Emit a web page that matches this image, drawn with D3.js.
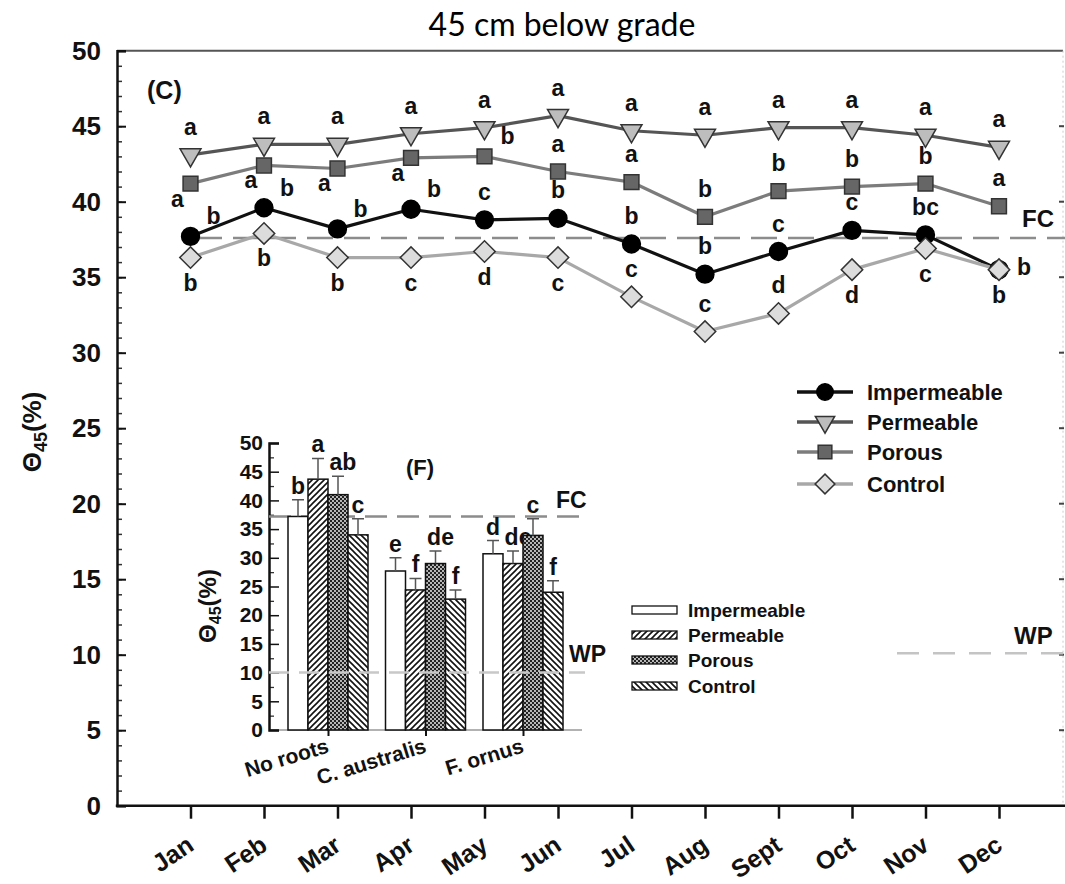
<!DOCTYPE html>
<html>
<head>
<meta charset="utf-8">
<script src="https://cdn.jsdelivr.net/npm/d3@7"></script>
<style>
  body { margin: 0; background: #fff; }
  text { font-family: "Liberation Sans", Arial, sans-serif; }
</style>
</head>
<body>
<div id="chart"></div>
<script>
// main panel (C): monthly values, %
const months = ["Jan", "Feb", "Mar", "Apr", "May", "Jun", "Jul", "Aug", "Sept", "Oct", "Nov", "Dec"];
const impermeable = [37.7, 39.6, 38.2, 39.5, 38.8, 38.9, 37.2, 35.2, 36.7, 38.1, 37.8, 35.5];
const permeable = [43.1, 43.8, 43.8, 44.5, 44.9, 45.7, 44.7, 44.4, 44.9, 44.9, 44.4, 43.6];
const porous = [41.2, 42.4, 42.2, 42.9, 43.0, 42.0, 41.3, 39.0, 40.7, 41.0, 41.2, 39.7];
const control = [36.3, 37.9, 36.3, 36.3, 36.7, 36.3, 33.7, 31.4, 32.6, 35.5, 36.9, 35.5];

// significance letters + where they sit round the marker
const impLetters = ["b", "b", "b", "b", "c", "b", "b", "b", "c", "c", "bc", "b"];
const impPos = ["NE", "NE", "NE", "NE", "N", "N", "N", "N", "N", "N", "N", "S"];
const permLetters = ["a", "a", "a", "a", "a", "a", "a", "a", "a", "a", "a", "a"];
const permPos = ["N", "N", "N", "N", "N", "N", "N", "N", "N", "N", "N", "N"];
const porLetters = ["a", "a", "a", "a", "b", "a", "a", "b", "b", "b", "b", "a"];
const porPos = ["SW", "SW", "SW", "SW", "NE", "N", "N", "N", "N", "N", "N", "N"];
const ctlLetters = ["b", "b", "b", "c", "d", "c", "c", "c", "d", "d", "c", "b"];
const ctlPos = ["S", "S", "S", "S", "S", "S", "N", "N", "N", "S", "S", "E"];

const yTicksMain = [0, 5, 10, 15, 20, 25, 30, 35, 40, 45, 50];
const fcMain = 37.6;
const wpMain = 10.1;

// inset panel (F)
const insetGroups = ["No roots", "C. australis", "F. ornus"];
const insetImpermeable = [37.2, 27.7, 30.7];
const insetPermeable = [43.7, 24.4, 29.0];
const insetPorous = [41.0, 29.0, 33.9];
const insetControl = [34.0, 22.8, 24.0];
const insetImpErr = [2.9, 2.3, 2.3];
const insetPermErr = [3.6, 2.0, 2.2];
const insetPorErr = [3.2, 2.2, 2.9];
const insetCtlErr = [2.8, 1.6, 2.0];
const insetImpLetters = ["b", "e", "d"];
const insetPermLetters = ["a", "f", "de"];
const insetPorLetters = ["ab", "de", "c"];
const insetCtlLetters = ["c", "f", "f"];
const yTicksInset = [0, 5, 10, 15, 20, 25, 30, 35, 40, 45, 50];
const fcInset = 37.2;
const wpInset = 10;

const seriesNames = ["Impermeable", "Permeable", "Porous", "Control"];

const width = 1065, height = 884;

const svg = d3.select("#chart").append("svg")
  .attr("width", width)
  .attr("height", height)
  .attr("viewBox", [0, 0, width, height]);

svg.append("rect").attr("width", width).attr("height", height).attr("fill", "#fff");

const defs = svg.append("defs");
const hatch = (id, d) => {
  const p = defs.append("pattern").attr("id", id)
    .attr("patternUnits", "userSpaceOnUse").attr("width", 6).attr("height", 6);
  p.append("rect").attr("width", 6).attr("height", 6).attr("fill", "#fff");
  p.append("path").attr("d", d).attr("stroke", "#111").attr("stroke-width", 1.6);
};
hatch("hatchUp", "M0,6L6,0M-1,1L1,-1M5,7L7,5");
hatch("hatchDown", "M0,0L6,6M-1,5L1,7M5,-1L7,1");
const dots = defs.append("pattern").attr("id", "dots")
  .attr("patternUnits", "userSpaceOnUse").attr("width", 4).attr("height", 4);
dots.append("rect").attr("width", 4).attr("height", 4).attr("fill", "#222");
dots.append("circle").attr("cx", 1).attr("cy", 1).attr("r", 0.9).attr("fill", "#fff");
dots.append("circle").attr("cx", 3).attr("cy", 3).attr("r", 0.9).attr("fill", "#fff");

// title
svg.append("text")
  .attr("x", 562).attr("y", 36)
  .attr("text-anchor", "middle")
  .style("font-family", "Lato, 'Open Sans', sans-serif")
  .attr("font-size", 32)
  .text("45 cm below grade");

// ---------- main panel ----------
const x = d3.scaleLinear().domain([0, 13]).range([117, 1072.5]);
const y = d3.scaleLinear().domain([0, 50]).range([805.7, 50.7]);

// frame: top and right
svg.append("line").attr("x1", 117).attr("x2", 1063).attr("y1", y(50)).attr("y2", y(50))
  .attr("stroke", "#555").attr("stroke-width", 2);
svg.append("line").attr("x1", 1063).attr("x2", 1063).attr("y1", y(50)).attr("y2", y(0))
  .attr("stroke", "#ccc").attr("stroke-width", 1).attr("stroke-dasharray", "2,3");
svg.append("g").selectAll("line").data(yTicksMain.slice(1, -1)).join("line")
  .attr("x1", 1059).attr("x2", 1064).attr("y1", d => y(d)).attr("y2", d => y(d))
  .attr("stroke", "#444").attr("stroke-width", 2);

// y axis (ticks point inward)
svg.append("g")
  .attr("transform", "translate(117,0)")
  .call(d3.axisLeft(y).tickValues(d3.range(0, 51, 1)).tickSize(-5).tickFormat(""))
  .call(g => g.selectAll(".tick line").attr("stroke", "#333").attr("stroke-width", 1.5))
  .call(g => g.select(".domain").remove());
svg.append("g")
  .attr("transform", "translate(117,0)")
  .call(d3.axisLeft(y).tickValues(yTicksMain).tickSize(-9).tickPadding(16))
  .call(g => g.select(".domain").attr("stroke", "#111").attr("stroke-width", 2.5))
  .call(g => g.selectAll(".tick line").attr("stroke", "#111").attr("stroke-width", 2))
  .call(g => g.selectAll(".tick text")
    .attr("font-size", 26).attr("font-weight", "bold").attr("fill", "#111")
    .style("font-family", "'Liberation Sans', Arial, sans-serif"));

// x axis
svg.append("g")
  .attr("transform", `translate(0,${y(0)})`)
  .call(d3.axisBottom(x).tickValues(d3.range(1, 13)).tickSize(13).tickFormat(""))
  .call(g => g.select(".domain").remove())
  .call(g => g.selectAll(".tick line").attr("stroke", "#111").attr("stroke-width", 2.5));
svg.append("line").attr("x1", 115.8).attr("x2", 1065).attr("y1", y(0)).attr("y2", y(0))
  .attr("stroke", "#111").attr("stroke-width", 2.5);

svg.append("g").selectAll("text").data(months).join("text")
  .attr("transform", (d, i) => `translate(${x(i + 1) + 5},849) rotate(-34)`)
  .attr("text-anchor", "end")
  .attr("font-size", 25).attr("font-weight", "bold").attr("fill", "#111")
  .text(d => d);

// y label
const yl = svg.append("text")
  .attr("transform", "translate(41,432) rotate(-90)")
  .attr("text-anchor", "middle")
  .attr("font-size", 26).attr("font-weight", "bold").attr("fill", "#111");
yl.append("tspan").text("Θ");
yl.append("tspan").attr("font-size", 18).attr("dy", 6).text("45");
yl.append("tspan").attr("dy", -6).text("(%)");

svg.append("text").attr("x", 147).attr("y", 99)
  .attr("font-size", 25).attr("font-weight", "bold").attr("fill", "#111").text("(C)");

// FC / WP reference lines
svg.append("line").attr("x1", 196).attr("x2", 1065).attr("y1", y(fcMain)).attr("y2", y(fcMain))
  .attr("stroke", "#8c8c8c").attr("stroke-width", 2.5).attr("stroke-dasharray", "26,11");
svg.append("text").attr("x", 1022).attr("y", 227)
  .attr("font-size", 24).attr("font-weight", "bold").attr("fill", "#111").text("FC");
svg.append("line").attr("x1", 897).attr("x2", 1065).attr("y1", y(wpMain)).attr("y2", y(wpMain))
  .attr("stroke", "#c4c4c4").attr("stroke-width", 2.5).attr("stroke-dasharray", "22,14");
svg.append("text").attr("x", 1014).attr("y", 644)
  .attr("font-size", 24).attr("font-weight", "bold").attr("fill", "#111").text("WP");

const series = [
  { name: "Impermeable", values: impermeable, letters: impLetters, pos: impPos,
    line: "#111", symbol: d3.symbolCircle, size: 250, rot: 0, fill: "#000", stroke: "#000" },
  { name: "Permeable", values: permeable, letters: permLetters, pos: permPos,
    line: "#555", symbol: d3.symbolTriangle, size: 190, rot: 180, fill: "#bdbdbd", stroke: "#333" },
  { name: "Porous", values: porous, letters: porLetters, pos: porPos,
    line: "#7c7c7c", symbol: d3.symbolSquare, size: 220, rot: 0, fill: "#666", stroke: "#333" },
  { name: "Control", values: control, letters: ctlLetters, pos: ctlPos,
    line: "#a8a8a8", symbol: d3.symbolSquare, size: 230, rot: 45, fill: "#dcdcdc", stroke: "#333" }
];

const offsets = {
  N: [0, -28], S: [0, 25], NE: [23, -20], SW: [-13, 15], E: [25, -3]
};

const line = d3.line().x((d, i) => x(i + 1)).y(d => y(d));

series.forEach(s => {
  svg.append("path")
    .datum(s.values)
    .attr("fill", "none")
    .attr("stroke", s.line)
    .attr("stroke-width", 3.2)
    .attr("stroke-linejoin", "round")
    .attr("d", line);
});

series.forEach(s => {
  svg.append("g").selectAll("path").data(s.values).join("path")
    .attr("transform", (d, i) => `translate(${x(i + 1)},${y(d)}) rotate(${s.rot})`)
    .attr("d", d3.symbol(s.symbol, s.size))
    .attr("fill", s.fill)
    .attr("stroke", s.stroke)
    .attr("stroke-width", 1.5);
});

series.forEach(s => {
  svg.append("g").selectAll("text").data(s.values).join("text")
    .attr("x", (d, i) => x(i + 1) + offsets[s.pos[i]][0])
    .attr("y", (d, i) => y(d) + offsets[s.pos[i]][1])
    .attr("text-anchor", "middle")
    .attr("dominant-baseline", "central")
    .attr("font-size", 23).attr("font-weight", "bold").attr("fill", "#111")
    .text((d, i) => s.letters[i]);
});

// main legend
const leg = svg.append("g");
series.forEach((s, i) => {
  const ly = [392, 422, 452, 484][i];
  leg.append("line").attr("x1", 797).attr("x2", 853).attr("y1", ly).attr("y2", ly)
    .attr("stroke", s.line).attr("stroke-width", 3.5);
  leg.append("path")
    .attr("transform", `translate(825,${ly}) rotate(${s.rot})`)
    .attr("d", d3.symbol(s.symbol, s.size * 0.85))
    .attr("fill", s.fill).attr("stroke", s.stroke).attr("stroke-width", 1.5);
  leg.append("text").attr("x", 867).attr("y", ly).attr("dominant-baseline", "central")
    .attr("font-size", 22).attr("font-weight", "bold").attr("fill", "#111").text(s.name);
});

// ---------- inset panel (F) ----------
const xi = d3.scalePoint().domain(insetGroups).range([328, 523]);
const yi = d3.scaleLinear().domain([0, 50]).range([730, 443]);
const barW = 20;

svg.append("line").attr("x1", 269).attr("x2", 582).attr("y1", yi(0)).attr("y2", yi(0))
  .attr("stroke", "#999").attr("stroke-width", 1.5);
svg.append("g")
  .attr("transform", `translate(0,${yi(0)})`)
  .call(d3.axisBottom(xi).tickSize(6).tickFormat(""))
  .call(g => g.select(".domain").remove())
  .call(g => g.selectAll(".tick line").attr("stroke", "#111").attr("stroke-width", 2));

svg.append("g")
  .attr("transform", "translate(269,0)")
  .call(d3.axisLeft(yi).tickValues(d3.range(2.5, 50, 5)).tickSize(-5).tickFormat(""))
  .call(g => g.select(".domain").remove())
  .call(g => g.selectAll(".tick line").attr("stroke", "#333").attr("stroke-width", 1.3));
svg.append("g")
  .attr("transform", "translate(269,0)")
  .call(d3.axisLeft(yi).tickValues(yTicksInset).tickSize(-10).tickPadding(6))
  .call(g => g.select(".domain").attr("stroke", "#111").attr("stroke-width", 2.5))
  .call(g => g.selectAll(".tick line").attr("stroke", "#111").attr("stroke-width", 1.5))
  .call(g => g.selectAll(".tick text")
    .attr("font-size", 21).attr("font-weight", "bold").attr("fill", "#111")
    .style("font-family", "'Liberation Sans', Arial, sans-serif"));

const yil = svg.append("text")
  .attr("transform", "translate(216,606) rotate(-90)")
  .attr("text-anchor", "middle")
  .attr("font-size", 24).attr("font-weight", "bold").attr("fill", "#111");
yil.append("tspan").text("Θ");
yil.append("tspan").attr("font-size", 16).attr("dy", 5).text("45");
yil.append("tspan").attr("dy", -5).text("(%)");

svg.append("text").attr("x", 420).attr("y", 467).attr("text-anchor", "middle")
  .attr("dominant-baseline", "central")
  .attr("font-size", 22).attr("font-weight", "bold").attr("fill", "#111").text("(F)");

svg.append("g").selectAll("text").data(insetGroups).join("text")
  .attr("transform", d => `translate(${xi(d) + 2},752) rotate(-17)`)
  .attr("text-anchor", "end")
  .attr("font-size", 21).attr("font-weight", "bold").attr("fill", "#111")
  .text(d => d);

const insetSeries = [
  { values: insetImpermeable, err: insetImpErr, letters: insetImpLetters, fill: "#fff" },
  { values: insetPermeable, err: insetPermErr, letters: insetPermLetters, fill: "url(#hatchUp)" },
  { values: insetPorous, err: insetPorErr, letters: insetPorLetters, fill: "url(#dots)" },
  { values: insetControl, err: insetCtlErr, letters: insetCtlLetters, fill: "url(#hatchDown)" }
];

// reference lines behind bars
svg.append("line").attr("x1", 269).attr("x2", 585).attr("y1", yi(fcInset)).attr("y2", yi(fcInset))
  .attr("stroke", "#8c8c8c").attr("stroke-width", 2.5).attr("stroke-dasharray", "22,10");
svg.append("text").attr("x", 556).attr("y", 500).attr("dominant-baseline", "central")
  .attr("font-size", 23).attr("font-weight", "bold").attr("fill", "#111").text("FC");
svg.append("text").attr("x", 569).attr("y", 654).attr("dominant-baseline", "central")
  .attr("font-size", 23).attr("font-weight", "bold").attr("fill", "#111").text("WP");

insetSeries.forEach((s, k) => {
  const bx = g => xi(g) + (k - 2) * barW;
  svg.append("g").selectAll("rect").data(insetGroups).join("rect")
    .attr("x", bx)
    .attr("y", (g, j) => yi(s.values[j]))
    .attr("width", barW)
    .attr("height", (g, j) => yi(0) - yi(s.values[j]))
    .attr("fill", s.fill)
    .attr("stroke", "#111").attr("stroke-width", 1.5);
  svg.append("g").selectAll("path").data(insetGroups).join("path")
    .attr("d", (g, j) => {
      const cx = bx(g) + barW / 2;
      const t = yi(s.values[j] + s.err[j]);
      return `M${cx},${yi(s.values[j])}V${t}M${cx - 6},${t}H${cx + 6}`;
    })
    .attr("fill", "none").attr("stroke", "#555").attr("stroke-width", 1.5);
  svg.append("g").selectAll("text").data(insetGroups).join("text")
    .attr("x", (g, j) => bx(g) + barW / 2 + (s.letters[j].length > 1 ? 5 : 0))
    .attr("y", (g, j) => yi(s.values[j] + s.err[j]) - 14)
    .attr("text-anchor", "middle").attr("dominant-baseline", "central")
    .attr("font-size", 23).attr("font-weight", "bold").attr("fill", "#111")
    .text((g, j) => s.letters[j]);
});

svg.append("line").attr("x1", 269).attr("x2", 585).attr("y1", yi(wpInset)).attr("y2", yi(wpInset))
  .attr("stroke", "#c8c8c8").attr("stroke-width", 2.5).attr("stroke-dasharray", "20,10");

// inset legend
const ileg = svg.append("g");
insetSeries.forEach((s, i) => {
  const ly = [610, 635, 660, 686][i];
  ileg.append("rect").attr("x", 632).attr("y", ly - 4).attr("width", 45).attr("height", 8)
    .attr("fill", s.fill).attr("stroke", "#111").attr("stroke-width", 1.3);
  ileg.append("text").attr("x", 688).attr("y", ly).attr("dominant-baseline", "central")
    .attr("font-size", 19).attr("font-weight", "bold").attr("fill", "#111").text(seriesNames[i]);
});
</script>
</body>
</html>
